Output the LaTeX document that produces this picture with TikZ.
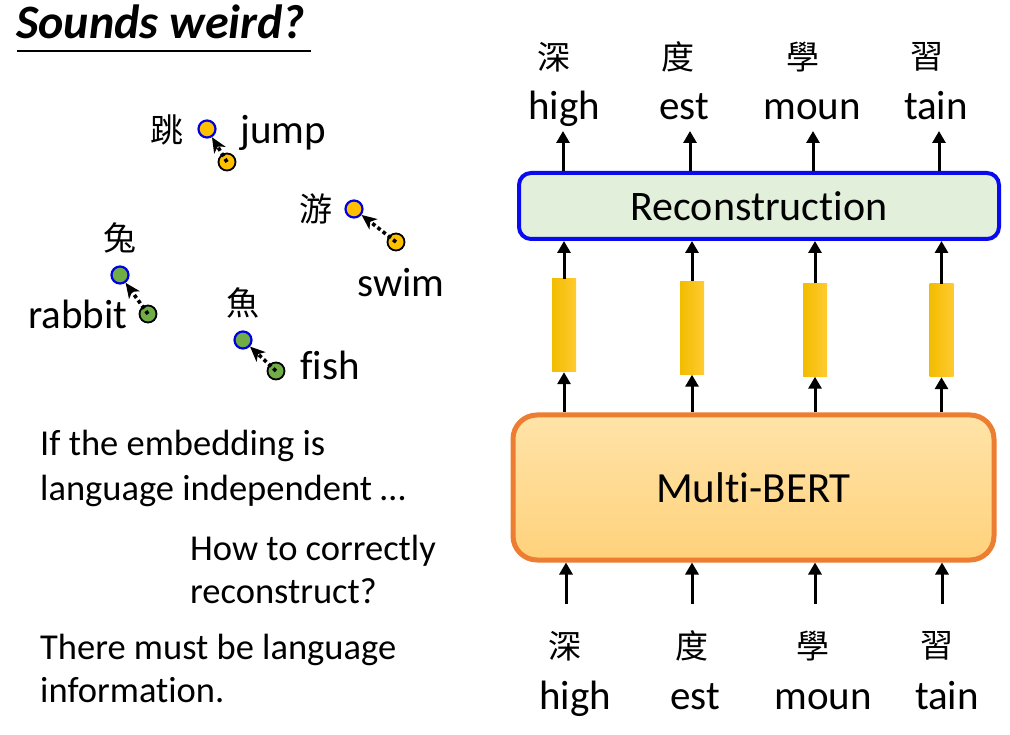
\documentclass[tikz,border=0pt]{standalone}
\usepackage{fontspec}
\setmainfont{Carlito}[Ligatures={NoCommon}]
\newfontfamily\cjk{Noto Sans CJK TC}
\usetikzlibrary{arrows.meta}
\definecolor{dotor}{HTML}{FFC000}
\definecolor{dotgr}{HTML}{70AD47}
\definecolor{dotblue}{HTML}{0000E0}
\definecolor{bertline}{HTML}{ED7D31}
\definecolor{berttop}{HTML}{FFE3A8}
\definecolor{bertbot}{HTML}{FFD27C}
\definecolor{recfill}{HTML}{E2EFDA}
\definecolor{recline}{HTML}{0A0AF0}
\definecolor{barL}{HTML}{F2BC00}
\definecolor{barR}{HTML}{FFCB30}
\begin{document}
\begin{tikzpicture}[x=1pt,y=-1pt,
  word/.style={inner sep=0pt, font=\fontsize{41}{48}\selectfont},
  han/.style={inner sep=0pt, font=\cjk\fontsize{33}{40}\selectfont},
  body/.style={inner sep=0pt, anchor=base west, font=\fontsize{36.5}{42}\selectfont},
  tgt/.style={circle, minimum size=17pt, inner sep=0pt, draw=dotblue, line width=2.2pt},
  src/.style={circle, minimum size=17pt, inner sep=0pt, draw=black, line width=1.8pt},
  move/.style={line width=3.6pt, dash pattern=on 3.6pt off 3pt, -{Stealth[length=15pt,width=13pt,inset=4pt]}},
  up/.style={line width=3pt, -{Triangle[length=12pt,width=13pt]}},
  bar/.style={minimum width=24pt, minimum height=93pt, inner sep=0pt, left color=barL, right color=barR, draw=none},
]
\useasboundingbox (0,0) rectangle (1010,735);

% title
\node[inner sep=0pt, anchor=base west, font=\bfseries\itshape\fontsize{48}{56}\selectfont] (title) at (16,39) {Sounds weird?};
\draw[line width=2pt] (17,51) -- (311,51);

% embedding dots
\node[src, fill=dotor] (js) at (227,162) {};
\node[tgt, fill=dotor] (jt) at (207,129) {};
\node[src, fill=dotor] (ss) at (396,242) {};
\node[tgt, fill=dotor] (st) at (354,209) {};
\node[src, fill=dotgr] (rs) at (148,314) {};
\node[tgt, fill=dotgr] (rt) at (120,275) {};
\node[src, fill=dotgr] (fs) at (276,371) {};
\node[tgt, fill=dotgr] (ft) at (243,340) {};
\draw[move] (js.center) -- (jt);
\draw[move] (ss.center) -- (st);
\draw[move] (rs.center) -- (rt);
\draw[move] (fs.center) -- (ft);

\node[han] (c1) at (167,130) {跳};
\node[word, anchor=base west] (w1) at (240,144) {jump};
\node[han] (c2) at (316,209) {游};
\node[word, anchor=base west] (w2) at (357,297) {swim};
\node[han] (c3) at (120,238) {兔};
\node[word, anchor=base west] (w3) at (28,329) {rabbit};
\node[han] (c4) at (243,303) {魚};
\node[word, anchor=base west] (w4) at (300,380) {fish};

% text block
\node[body] (t1) at (40,455) {If the embedding is};
\node[body] (t2) at (40,500) {language independent …};
\node[body] (t3) at (190,560) {How to correctly};
\node[body] (t4) at (190,603) {reconstruct?};
\node[body] (t5) at (40,659) {There must be language};
\node[body] (t6) at (40,702) {information.};

% Multi-BERT
\node[draw=bertline, line width=5pt, rounded corners=24pt, top color=berttop, bottom color=bertbot,
  minimum width=481pt, minimum height=145pt, inner sep=0pt, font=\fontsize{43}{50}\selectfont] (bert) at (753.5,487.5) {Multi-BERT};

% Reconstruction
\node[draw=recline, line width=4pt, rounded corners=12pt, fill=recfill,
  minimum width=480pt, minimum height=66pt, inner sep=0pt, font=\fontsize{42}{49}\selectfont] (rec) at (759,206) {Reconstruction};

% yellow bars
\node[bar] (b1) at (564,325.5) {};
\node[bar] (b2) at (692,328) {};
\node[bar] (b3) at (815,330) {};
\node[bar] (b4) at (941.5,330.5) {};

\foreach \i in {1,2,3,4} {
  \draw[up] (b\i.north) -- (b\i.north |- rec.south);
  \draw[up] (b\i.south |- bert.north) -- (b\i.south);
}

% bottom input
\coordinate (in1) at (566,604);
\coordinate (in2) at (692,604);
\coordinate (in3) at (815,604);
\coordinate (in4) at (942,604);
\foreach \i in {1,2,3,4} \draw[up] (in\i) -- (in\i |- bert.south);

\node[han] (bc1) at (565,646) {深};
\node[han] (bc2) at (692,646) {度};
\node[han] (bc3) at (813,646) {學};
\node[han] (bc4) at (937,646) {習};
\node[word, anchor=base] (bw1) at (575,709) {high};
\node[word, anchor=base] (bw2) at (695,709) {est};
\node[word, anchor=base] (bw3) at (823,709) {moun};
\node[word, anchor=base] (bw4) at (947,709) {tain};

% top output
\coordinate (out1) at (563,131);
\coordinate (out2) at (690,131);
\coordinate (out3) at (813,131);
\coordinate (out4) at (939,131);
\foreach \i in {1,2,3,4} \draw[up] (out\i |- rec.north) -- (out\i);

\node[han] (tc1) at (554,57) {深};
\node[han] (tc2) at (678,57) {度};
\node[han] (tc3) at (803,57) {學};
\node[han] (tc4) at (927,57) {習};
\node[word, anchor=base] (tw1) at (564,120) {high};
\node[word, anchor=base] (tw2) at (684,120) {est};
\node[word, anchor=base] (tw3) at (812,120) {moun};
\node[word, anchor=base] (tw4) at (936,120) {tain};
\end{tikzpicture}
\end{document}
